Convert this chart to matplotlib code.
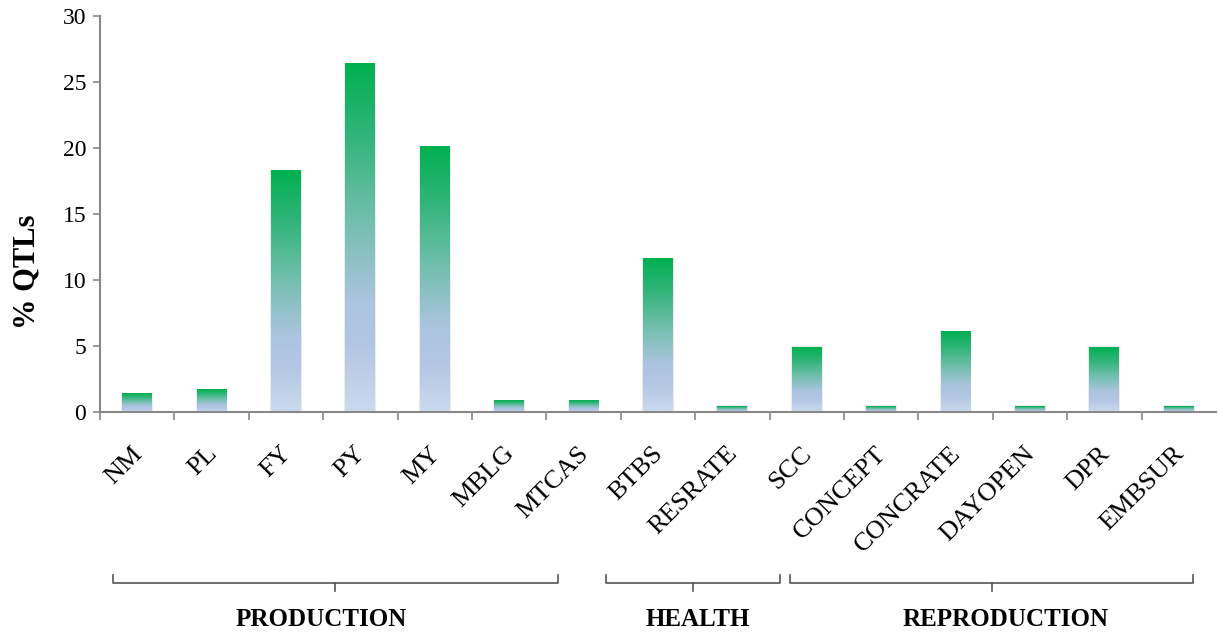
import matplotlib.pyplot as plt
import numpy as np
from matplotlib.colors import LinearSegmentedColormap
from matplotlib.transforms import blended_transform_factory

traits = ['NM', 'PL', 'FY', 'PY', 'MY', 'MBLG', 'MTCAS', 'BTBS', 'RESRATE',
          'SCC', 'CONCEPT', 'CONCRATE', 'DAYOPEN', 'DPR', 'EMBSUR']
pct_qtls = [1.4, 1.7, 18.3, 26.4, 20.1, 0.85, 0.85, 11.6, 0.45,
            4.9, 0.45, 6.1, 0.45, 4.9, 0.45]
groups = ['PRODUCTION', 'HEALTH', 'REPRODUCTION']
# bracket ends and label centres, in category units
group_left = [-0.32, 6.3, 8.78]
group_right = [5.65, 8.64, 14.19]
group_text_x = [2.47, 7.53, 11.67]

plt.rcParams['font.family'] = ['Liberation Serif', 'DejaVu Serif']

fig = plt.figure(figsize=(12.19, 6.33), dpi=100)
ax = fig.add_axes([0.082, 0.349, 0.9155, 0.6256])

grad = LinearSegmentedColormap.from_list('bar', [
    (0.0, '#cbdaee'), (0.18, '#b3c7e4'), (0.32, '#abc4df'),
    (0.55, '#72bfad'), (0.8, '#2fb478'), (1.0, '#00b050')])

x = np.arange(len(traits))
width = 0.4
bars = ax.bar(x, pct_qtls, width, color='none', edgecolor='#ececec',
              linewidth=1.5, zorder=1)
g = np.linspace(0, 1, 256).reshape(-1, 1)
for b in bars:
    x0 = b.get_x()
    h = b.get_height()
    ax.imshow(g, cmap=grad, origin='lower', aspect='auto', interpolation='bilinear',
              extent=[x0, x0 + b.get_width(), 0, h], zorder=2)

ax.set_xlim(-0.5, len(traits) - 0.5)
ax.set_ylim(0, 30)
ax.set_yticks(range(0, 31, 5))
ax.tick_params(axis='y', labelsize=17, length=5, color='#888888', width=1.2, pad=5)

ax.set_xticks(x - 0.5)
ax.set_xticklabels([])
ax.tick_params(axis='x', length=6, color='#888888', width=1.2)
for i, t in enumerate(traits):
    ax.text(i - 0.08, -2.3, t, rotation=45, ha='right', va='top',
            rotation_mode='anchor', fontsize=19)

for s in ['top', 'right']:
    ax.spines[s].set_visible(False)
for s in ['left', 'bottom']:
    ax.spines[s].set_color('#888888')
    ax.spines[s].set_linewidth(1.5)

ax.set_ylabel('% QTLs', fontsize=22, fontweight='bold')
ax.yaxis.set_label_coords(-0.052, 0.355)

# group brackets under the labels
tr = blended_transform_factory(ax.transData, fig.transFigure)
y_br = 0.079
for name, xl, xr, xt in zip(groups, group_left, group_right, group_text_x):
    xm = (xl + xr) / 2
    ax.plot([xl, xl, xr, xr], [y_br + 0.012, y_br, y_br, y_br + 0.012],
            color='#555555', lw=1.2, transform=tr, clip_on=False)
    ax.plot([xm, xm], [y_br, y_br - 0.012], color='#555555', lw=1.2,
            transform=tr, clip_on=False)
    ax.text(xt, 0.022, name, transform=tr, ha='center', va='center',
            fontsize=18, fontweight='bold')

fig.savefig('out.png', dpi=100)
